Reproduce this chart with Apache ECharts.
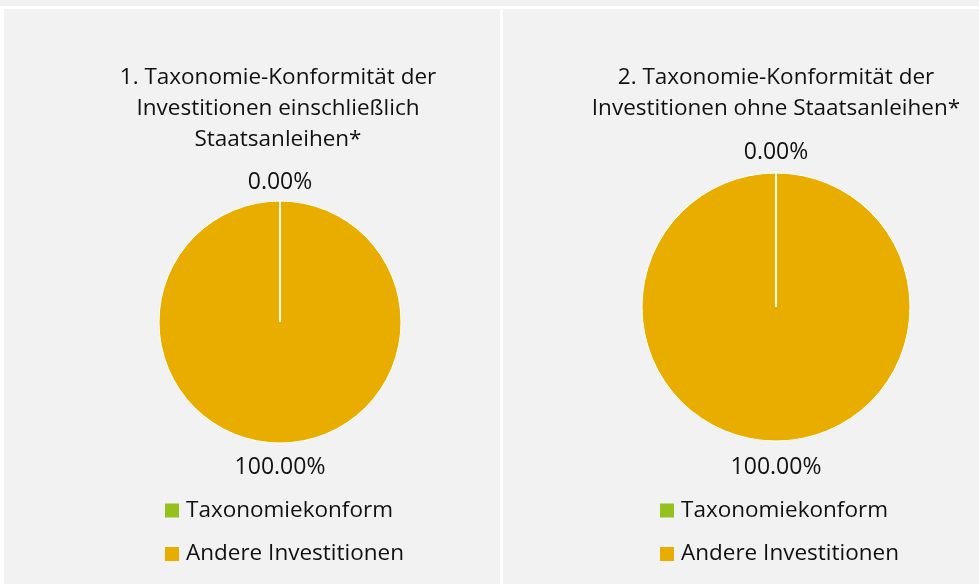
<!DOCTYPE html>
<html>
<head>
<meta charset="utf-8">
<script src="https://cdn.jsdelivr.net/npm/echarts@6/dist/echarts.min.js"></script>
<style>
  html, body { margin: 0; padding: 0; background: #ffffff; }
  #chart { width: 979px; height: 584px; }
</style>
</head>
<body>
<div id="chart"></div>
<script>
// Categories shared by both pies
const categories = ['Taxonomiekonform', 'Andere Investitionen'];
// Shares in percent
const withSovereigns = [0.0, 100.0];
const withoutSovereigns = [0.0, 100.0];
// Panel headings
const titles = [
  '1. Taxonomie-Konformität der\nInvestitionen einschließlich\nStaatsanleihen*',
  '2. Taxonomie-Konformität der\nInvestitionen ohne Staatsanleihen*'
];
const colors = ['#95c11f', '#e9ad00'];

const FONT = 'Open Sans';
const TEXT = '#111111';
const FS = 22.5;
const START_ANGLE = 90;

// Pie geometry per panel
const pies = [
  { cx: 280, cy: 322, r: 121, topLabel: 182, bottomLabel: 467 },
  { cx: 776, cy: 307, r: 134, topLabel: 152, bottomLabel: 467 }
];

function pieSeries(values, p) {
  return {
    type: 'pie',
    center: [p.cx, p.cy],
    radius: [0, p.r],
    startAngle: START_ANGLE,
    clockwise: true,
    silent: true,
    animation: false,
    stillShowZeroSum: true,
    itemStyle: { borderColor: '#ffffff', borderWidth: 1 },
    label: {
      show: true,
      position: 'outside',
      formatter: (d) => d.value.toFixed(2) + '%',
      fontFamily: FONT,
      fontSize: 23,
      color: TEXT
    },
    labelLine: { show: false },
    labelLayout: (params) => ({
      x: p.cx,
      y: params.dataIndex === 0 ? p.topLabel : p.bottomLabel,
      align: 'center',
      verticalAlign: 'middle'
    }),
    data: categories.map((name, i) => ({ name, value: values[i] }))
  };
}

// White slice edges drawn from the centre out to each slice boundary
function sliceEdges(values, p) {
  const total = values.reduce((a, b) => a + b, 0);
  const edges = [];
  let acc = 0;
  values.forEach((v) => {
    const ang = (START_ANGLE - (acc / total) * 360) * Math.PI / 180;
    edges.push({
      type: 'line', z: 10, silent: true,
      shape: { x1: p.cx, y1: p.cy, x2: p.cx + p.r * Math.cos(ang), y2: p.cy - p.r * Math.sin(ang) },
      style: { stroke: '#ffffff', lineWidth: 1.5 }
    });
    acc += v;
  });
  return edges;
}

function legendAt(left) {
  return {
    orient: 'vertical', left: left, top: 499, padding: 0, itemGap: 20.5,
    icon: 'rect', itemWidth: 14, itemHeight: 14, selectedMode: false,
    itemStyle: { borderWidth: 0 },
    data: categories,
    textStyle: { fontFamily: FONT, fontSize: FS, color: TEXT, lineHeight: 20, padding: [0, 0, 0, 2] }
  };
}

const chart = echarts.init(document.getElementById('chart'), null, { renderer: 'canvas' });
chart.setOption({
  color: colors,
  backgroundColor: '#ffffff',
  animation: false,
  graphic: [
    { type: 'rect', z: -10, shape: { x: 0, y: 0, width: 979, height: 6 }, style: { fill: '#f2f2f2' } },
    { type: 'rect', z: -10, shape: { x: 4, y: 9, width: 496, height: 575 }, style: { fill: '#f2f2f2' } },
    { type: 'rect', z: -10, shape: { x: 503, y: 9, width: 476, height: 575 }, style: { fill: '#f2f2f2' } }
  ].concat(sliceEdges(withSovereigns, pies[0]), sliceEdges(withoutSovereigns, pies[1])),
  title: [
    {
      text: titles[0], left: 278, top: 62, textAlign: 'center', padding: 0,
      textStyle: { fontFamily: FONT, fontSize: FS, fontWeight: 'normal', color: TEXT, lineHeight: 31 }
    },
    {
      text: titles[1], left: 776, top: 62, textAlign: 'center', padding: 0,
      textStyle: { fontFamily: FONT, fontSize: FS, fontWeight: 'normal', color: TEXT, lineHeight: 31 }
    }
  ],
  legend: [legendAt(165), legendAt(660)],
  series: [pieSeries(withSovereigns, pies[0]), pieSeries(withoutSovereigns, pies[1])]
});
</script>
</body>
</html>
